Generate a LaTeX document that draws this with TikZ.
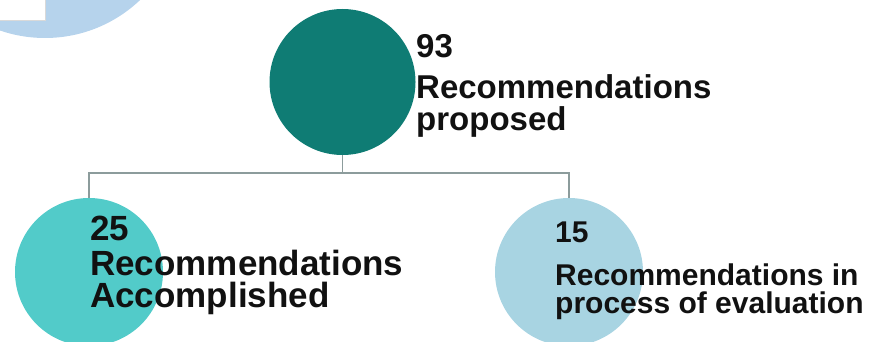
\documentclass[tikz,border=0pt]{standalone}
\usepackage{fontspec}
\setmainfont{Liberation Sans}
\definecolor{cornerblue}{HTML}{B6D3EC}
\definecolor{darkteal}{HTML}{0F7C74}
\definecolor{turq}{HTML}{52CBC9}
\definecolor{paleblue}{HTML}{A8D4E2}
\definecolor{linegrey}{HTML}{8C9C9C}
\definecolor{textblack}{HTML}{111111}
\tikzset{
  disc/.style={circle, draw=none, inner sep=0pt, minimum size=#1},
  label text/.style={anchor=base west, inner sep=0pt, align=left, text=textblack, font=\bfseries},
  link/.style={draw=linegrey, line width=1.3pt}
}
\begin{document}
\begin{tikzpicture}[x=1pt,y=-1pt]
\useasboundingbox (0,0) rectangle (877,342);
% corner decoration
\begin{scope}
\clip (0,0) rectangle (877,342);
\fill[cornerblue] (45,-100) circle (138);
\fill[white, draw=black!15, line width=0.6pt] (-2,-2) rectangle (45,20);
\end{scope}
% circles
\node[disc=146pt, fill=darkteal] (top) at (342.5,82) {};
\node[disc=148pt, fill=turq] (left) at (89,272) {};
\node[disc=148pt, fill=paleblue] (right) at (569,272) {};
% connectors
\coordinate (j) at (342.5,173);
\draw[link] (top.south) -- (j) -| (left.north);
\draw[link] (j) -| (right.north);
% texts (anchored at the baseline of the last line)
\node[label text, font=\bfseries\fontsize{33}{32}\selectfont] (toptext) at (416,130)
  {93\\[8pt]Recommendations\\proposed};
\node[label text, font=\bfseries\fontsize{35}{32}\selectfont] (lefttext) at (90,307)
  {25\\[3pt]Recommendations\\Accomplished};
\node[label text, font=\bfseries\fontsize{30}{28}\selectfont] (righttext) at (555,313)
  {15\\[15pt]Recommendations in\\process of evaluation};
\end{tikzpicture}
\end{document}
